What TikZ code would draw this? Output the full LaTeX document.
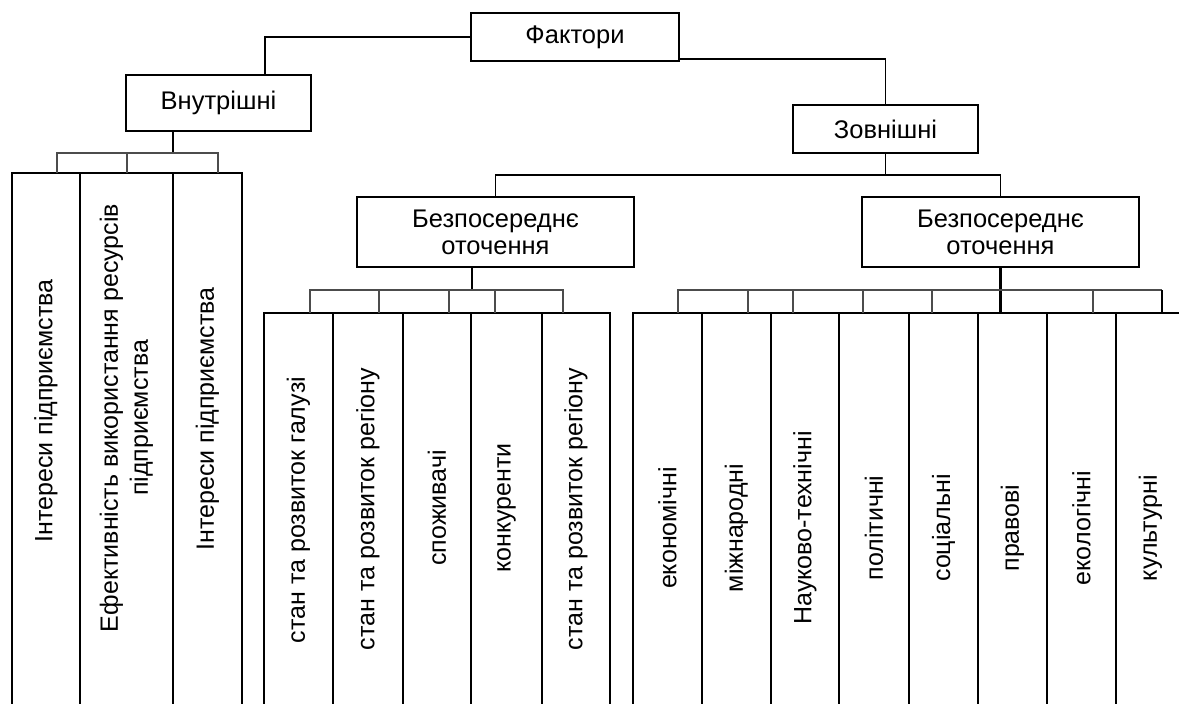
\documentclass[tikz,border=0pt]{standalone}
\usepackage{fontspec}
\setmainfont{Liberation Sans}
\begin{document}
\begin{tikzpicture}[x=1pt,y=-1pt,
  box/.style={draw, line width=2.8pt, inner sep=0pt, outer sep=0pt, align=center, font=\fontsize{25.5}{27}\selectfont},
  colbox/.style={draw, line width=2.6pt, inner sep=0pt, outer sep=0pt, anchor=north west},
  vtext/.style={rotate=90, inner sep=0pt, align=center, font=\fontsize{25}{30}\selectfont},
  mainline/.style={line width=1.8pt},
  stem/.style={line width=2.6pt},
  brk/.style={line width=1.5pt, draw=black!70}]
\clip (0,0) rectangle (1179,704);
\fill[white] (0,0) rectangle (1179,704);

% boxes
\node[box, minimum width=208pt, minimum height=48pt] (F) at (575,37) {Фактори};
\node[box, minimum width=185pt, minimum height=56pt] (Vn) at (218.5,103) {Внутрішні};
\node[box, minimum width=185pt, minimum height=48pt] (Z) at (885.5,129) {Зовнішні};
\node[box, minimum width=277pt, minimum height=70pt] (B1) at (495.5,232) {Безпосереднє\\оточення};
\node[box, minimum width=277pt, minimum height=70pt] (B2) at (1000.5,232) {Безпосереднє\\оточення};

% left columns
\node[colbox, minimum width=68pt, minimum height=560pt] (L1) at (12,173) {};
\node[colbox, minimum width=93pt, minimum height=560pt] (L2) at (80,173) {};
\node[colbox, minimum width=69pt, minimum height=560pt] (L3) at (173,173) {};
% middle columns
\node[colbox, minimum width=69pt, minimum height=430pt] (M1) at (264,313) {};
\node[colbox, minimum width=70pt, minimum height=430pt] (M2) at (333,313) {};
\node[colbox, minimum width=68pt, minimum height=430pt] (M3) at (403,313) {};
\node[colbox, minimum width=71pt, minimum height=430pt] (M4) at (471,313) {};
\node[colbox, minimum width=68pt, minimum height=430pt] (M5) at (542,313) {};
% right columns
\node[colbox, minimum width=69pt, minimum height=430pt] (R1) at (633,313) {};
\node[colbox, minimum width=69pt, minimum height=430pt] (R2) at (702,313) {};
\node[colbox, minimum width=68pt, minimum height=430pt] (R3) at (771,313) {};
\node[colbox, minimum width=70pt, minimum height=430pt] (R4) at (839,313) {};
\node[colbox, minimum width=69pt, minimum height=430pt] (R5) at (909,313) {};
\node[colbox, minimum width=69pt, minimum height=430pt] (R6) at (978,313) {};
\node[colbox, minimum width=69pt, minimum height=430pt] (R7) at (1047,313) {};
\node[colbox, minimum width=69pt, minimum height=430pt] (R8) at (1116,313) {};

% column texts
\node[vtext] (tL1) at (46,411) {Інтереси підприємства};
\node[vtext] (tL2) at (126.5,418) {Ефективність використання ресурсів\\підприємства};
\node[vtext] (tL3) at (207.5,419) {Інтереси підприємства};
\node[vtext] (tM1) at (298.5,510) {стан та розвиток галузі};
\node[vtext] (tM2) at (368,509) {стан та розвиток регіону};
\node[vtext] (tM3) at (437,508) {споживачі};
\node[vtext] (tM4) at (506.5,508) {конкуренти};
\node[vtext] (tM5) at (576,509) {стан та розвиток регіону};
\node[vtext] (tR1) at (667.5,528) {економічні};
\node[vtext] (tR2) at (736.5,528) {міжнародні};
\node[vtext] (tR3) at (805,528) {Науково-технічні};
\node[vtext] (tR4) at (874,528) {політичні};
\node[vtext] (tR5) at (943.5,528) {соціальні};
\node[vtext] (tR6) at (1012.5,528) {правові};
\node[vtext] (tR7) at (1081.5,528) {екологічні};
\node[vtext] (tR8) at (1150.5,528) {культурні};

% top connectors
\draw[mainline] (F.west) -| ([xshift=46.5pt]Vn.north);
\draw[mainline] ([yshift=2pt]F.south east) -| (Z.north);
\draw[mainline] (Z.south) -- (Z.south |- 0,175);
\draw[mainline] (B1.north) |- (0,175 -| B2.north) -- (B2.north);

% left bracket
\coordinate (lb) at (173,153);
\draw[stem] ([xshift=-45.5pt]Vn.south) -- (lb);
\draw[brk] (57,173) -- (57,153) -- (218,153) -- (218,173);
\draw[brk] (127,153) -- (127,173);

% middle bracket
\coordinate (mb) at (472,290);
\draw[stem] ([xshift=-23.5pt]B1.south) -- (mb);
\draw[brk] (310,313) -- (310,290) -- (563,290) -- (563,313);
\foreach \x in {379,449,495} \draw[brk] (\x,290) -- (\x,313);

% right bracket
\draw[stem] (B2.south) -- (B2.south |- R1.north);
\draw[brk] (678,313) -- (678,290) -- (1162,290);
\foreach \x in {748,793,863,932,1093} \draw[brk] (\x,290) -- (\x,313);
\draw[stem] (1162,290) -- (1162,313);
\end{tikzpicture}
\end{document}
